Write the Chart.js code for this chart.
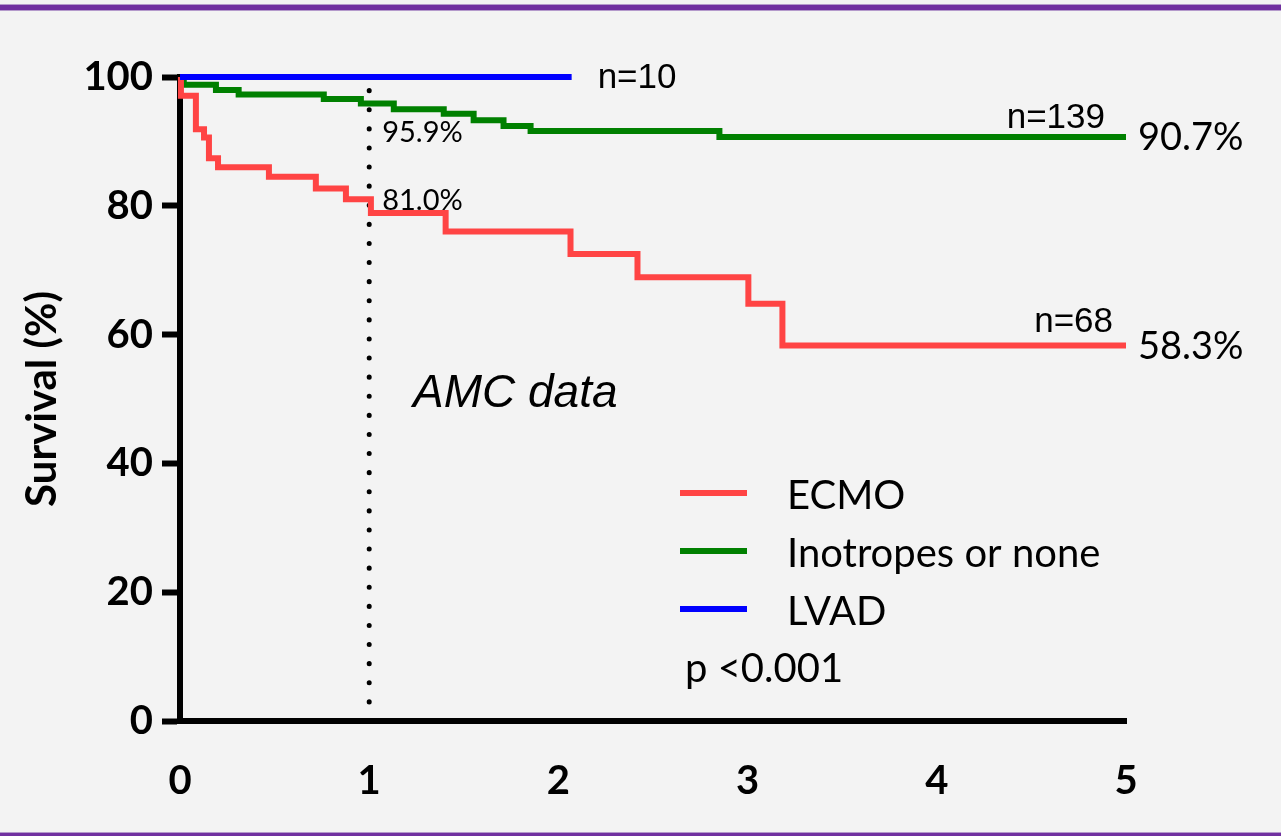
<!DOCTYPE html>
<html>
<head>
<meta charset="utf-8">
<script src="https://cdn.jsdelivr.net/npm/chart.js@4.4.0/dist/chart.umd.min.js"></script>
<style>
  html, body { margin: 0; padding: 0; background: #f3f3f3; }
  #wrap { width: 1281px; height: 836px; }
</style>
</head>
<body>
<div id="wrap"><canvas id="c" width="1281" height="836"></canvas></div>
<script>
// ---- data ----
const seriesNames = ['ECMO', 'Inotropes or none', 'LVAD'];
const ecmoTime = [0, 0.005, 0.084, 0.127, 0.153, 0.201, 0.47, 0.718, 0.877, 1.009, 1.404, 2.064, 2.418, 3.004, 3.184, 5];
const ecmoSurv = [100, 97.1, 91.9, 90.6, 87.4, 86.0, 84.5, 82.7, 81.0, 78.9, 76.0, 72.5, 68.9, 64.8, 58.3, 58.3];
const inoTime = [0, 0.02, 0.19, 0.31, 0.76, 0.956, 1.13, 1.394, 1.552, 1.71, 1.853, 2.851, 5];
const inoSurv = [100, 98.8, 98.0, 97.3, 96.6, 95.9, 95.0, 94.3, 93.3, 92.4, 91.6, 90.7, 90.7];
const lvadTime = [0, 2.07];
const lvadSurv = [100, 100];
const markTime = [1, 1];
const markSurv = [0, 100];
const xTicks = [0, 1, 2, 3, 4, 5];
const yTicks = [0, 20, 40, 60, 80, 100];
const nAtRisk = ['n=68', 'n=139', 'n=10'];
const finalLabels = ['58.3%', '90.7%'];
const oneYearLabels = ['81.0%', '95.9%'];
const pValue = 'p <0.001';
const noteText = 'AMC data';
const yTitle = 'Survival (%)';

const colors = ['#ff4444', '#008000', '#0000ff'];

function pts(xs, ys) { return xs.map((x, i) => ({ x: x, y: ys[i] })); }

const bgPlugin = {
  id: 'bg',
  beforeDraw(chart) {
    const ctx = chart.ctx;
    ctx.save();
    ctx.fillStyle = '#f3f3f3';
    ctx.fillRect(0, 0, chart.width, chart.height);
    // purple frame lines
    ctx.fillStyle = '#b49acb';
    ctx.fillRect(0, 4, chart.width, 7);
    ctx.fillStyle = '#7030a0';
    ctx.fillRect(0, 5, chart.width, 5);
    ctx.fillStyle = '#b49acb';
    ctx.fillRect(0, 832, chart.width, 1);
    ctx.fillStyle = '#7030a0';
    ctx.fillRect(0, 833, chart.width, 3);
    ctx.restore();
  }
};

const annoPlugin = {
  id: 'anno',
  afterDatasetsDraw(chart) {
    const ctx = chart.ctx;
    const xs = chart.scales.x, ys = chart.scales.y;
    ctx.save();
    ctx.fillStyle = '#000';
    ctx.textBaseline = 'alphabetic';
    // n at risk
    ctx.font = '35px "Liberation Sans", Arial, sans-serif';
    ctx.textAlign = 'left';
    ctx.fillText(nAtRisk[2], xs.getPixelForValue(lvadTime[lvadTime.length - 1]) + 26, ys.getPixelForValue(100) + 11);
    ctx.textAlign = 'right';
    ctx.fillText(nAtRisk[1], xs.getPixelForValue(5) - 21, ys.getPixelForValue(inoSurv[inoSurv.length - 1]) - 9);
    ctx.fillText(nAtRisk[0], xs.getPixelForValue(5) - 13, ys.getPixelForValue(ecmoSurv[ecmoSurv.length - 1]) - 14);
    // final percentages
    ctx.font = '38px Lato, "Open Sans", sans-serif';
    ctx.textAlign = 'left';
    ctx.fillText(finalLabels[1], xs.getPixelForValue(5) + 12, ys.getPixelForValue(inoSurv[inoSurv.length - 1]) + 13);
    ctx.fillText(finalLabels[0], xs.getPixelForValue(5) + 12, ys.getPixelForValue(ecmoSurv[ecmoSurv.length - 1]) + 13);
    // one-year labels
    ctx.font = '29px Lato, "Open Sans", sans-serif';
    ctx.fillText(oneYearLabels[1], xs.getPixelForValue(1) + 13, 142);
    ctx.fillText(oneYearLabels[0], xs.getPixelForValue(1) + 13, 210);
    // note
    ctx.font = 'italic 46px "Liberation Sans", Arial, sans-serif';
    ctx.fillText(noteText, 413, 407);
    // legend
    const ds = chart.data.datasets;
    const rowY = [493, 551, 609];
    ctx.font = '40px Lato, "Open Sans", sans-serif';
    for (let i = 0; i < 3; i++) {
      const d = ds.find(dd => dd.label === seriesNames[i]);
      ctx.strokeStyle = d.borderColor;
      ctx.lineWidth = 6;
      ctx.lineCap = 'butt';
      ctx.beginPath();
      ctx.moveTo(680, rowY[i]);
      ctx.lineTo(747, rowY[i]);
      ctx.stroke();
      ctx.fillText(seriesNames[i], 787, rowY[i] + 16);
    }
    ctx.fillText(pValue, 685, 682);
    ctx.restore();
  }
};

new Chart(document.getElementById('c'), {
  type: 'line',
  data: {
    datasets: [
      { label: seriesNames[2], data: pts(lvadTime, lvadSurv), borderColor: colors[2], borderWidth: 6, stepped: 'before', pointRadius: 0, clip: false, borderCapStyle: 'butt' },
      { label: seriesNames[0], data: pts(ecmoTime, ecmoSurv), borderColor: colors[0], borderWidth: 6, stepped: 'before', pointRadius: 0, clip: false, borderCapStyle: 'butt' },
      { label: seriesNames[1], data: pts(inoTime, inoSurv), borderColor: colors[1], borderWidth: 6, stepped: 'before', pointRadius: 0, clip: false, borderCapStyle: 'butt' },
      { label: '1 year', data: pts(markTime, markSurv), borderColor: '#000', borderWidth: 5, borderDash: [0.1, 19], borderCapStyle: 'round', pointRadius: 0, clip: false }
    ]
  },
  options: {
    responsive: false,
    animation: false,
    events: [],
    layout: { padding: { left: 0, right: 155, top: 77, bottom: 0 } },
    plugins: { legend: { display: false }, tooltip: { enabled: false } },
    scales: {
      x: {
        type: 'linear', min: 0, max: 5,
        afterBuildTicks(s) { s.ticks = xTicks.map(v => ({ value: v })); },
        afterFit(s) { s.height = 115; },
        grid: { display: true, drawOnChartArea: false, drawTicks: false },
        border: { display: true, color: '#000', width: 6 },
        ticks: { color: '#000', padding: 36, font: { family: 'Lato', weight: 'bold', size: 40 }, maxRotation: 0 }
      },
      y: {
        min: 0, max: 100,
        afterBuildTicks(s) { s.ticks = yTicks.map(v => ({ value: v })); },
        afterFit(s) { s.width = 180; },
        grid: { display: true, drawOnChartArea: false, drawTicks: true, tickLength: 18, tickWidth: 6, tickColor: '#000', color: '#000' },
        border: { display: true, color: '#000', width: 6 },
        ticks: { color: '#000', padding: 9, font: { family: 'Lato', weight: 'bold', size: 40 } },
        title: { display: true, text: yTitle, color: '#000', font: { family: 'Lato', weight: 'bold', size: 42 }, padding: { top: 17, bottom: 0 } }
      }
    }
  },
  plugins: [bgPlugin, annoPlugin]
});
</script>
</body>
</html>
